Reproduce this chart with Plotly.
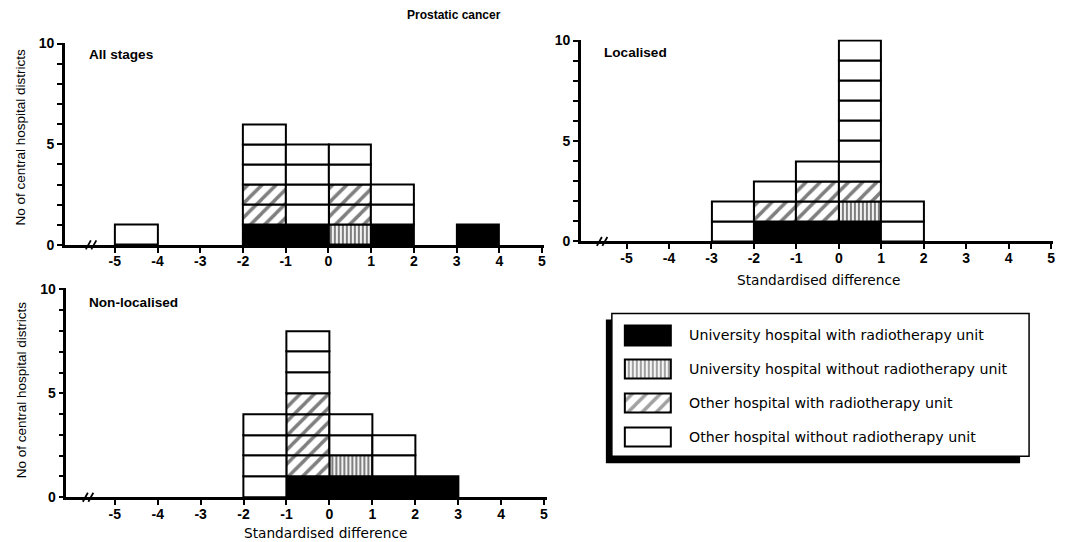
import plotly.graph_objects as go

W, H = 1072, 542

# ---------------- data ----------------
bin_left = [-5, -4, -3, -2, -1, 0, 1, 2, 3, 4]
x_tick_vals = [-5, -4, -3, -2, -1, 0, 1, 2, 3, 4, 5]
x_tick_labels = ["-5", "-4", "-3", "-2", "-1", "0", "1", "2", "3", "4", "5"]
y_tick_vals = [0, 1, 2, 3, 4, 5, 6, 7, 8, 9, 10]
y_tick_labels = ["0", "", "", "", "", "5", "", "", "", "", "10"]

categories = [
    "University hospital with radiotherapy unit",
    "University hospital without radiotherapy unit",
    "Other hospital with radiotherapy unit",
    "Other hospital without radiotherapy unit",
]

# counts of districts per bin (bins -5..-4, -4..-3, ..., 4..5)
all_uni_rt    = [0, 0, 0, 1, 1, 0, 1, 0, 1, 0]
all_uni_nort  = [0, 0, 0, 0, 0, 1, 0, 0, 0, 0]
all_oth_rt    = [0, 0, 0, 2, 0, 2, 0, 0, 0, 0]
all_oth_nort  = [1, 0, 0, 3, 4, 2, 2, 0, 0, 0]

loc_uni_rt    = [0, 0, 0, 1, 1, 1, 0, 0, 0, 0]
loc_uni_nort  = [0, 0, 0, 0, 0, 1, 0, 0, 0, 0]
loc_oth_rt    = [0, 0, 0, 1, 2, 1, 0, 0, 0, 0]
loc_oth_nort  = [0, 0, 2, 1, 1, 7, 2, 0, 0, 0]

non_uni_rt    = [0, 0, 0, 0, 1, 1, 1, 1, 0, 0]
non_uni_nort  = [0, 0, 0, 0, 0, 1, 0, 0, 0, 0]
non_oth_rt    = [0, 0, 0, 0, 4, 0, 0, 0, 0, 0]
non_oth_nort  = [0, 0, 0, 4, 3, 2, 2, 0, 0, 0]

panel_titles = ["All stages", "Localised", "Non-localised"]
main_title = "Prostatic cancer"
y_title = "No of central hospital districts"
x_title = "Standardised difference"

# ---------------- styles / layout geometry (pixels) ----------------
FONT = "Liberation Sans, Arial, Helvetica, sans-serif"
WIDE = "DejaVu Sans, Verdana, sans-serif"

styles = [
    dict(color="black"),
    dict(color="white", pattern=dict(shape="|", fgcolor="black", bgcolor="white",
                                      size=4, solidity=0.55)),
    dict(color="white", pattern=dict(shape="/", fgcolor="black", bgcolor="white",
                                      size=10, solidity=0.35)),
    dict(color="white"),
]

geoms = [
    dict(ax=65, m5=115, p5=543, right=545, y0=244.5, y10=43),
    dict(ax=582, m5=627.7, p5=1053, right=1055, y0=241, y10=40),
    dict(ax=66.5, m5=115, p5=545, right=548, y0=497, y10=289),
]

panels = [
    [all_uni_rt, all_uni_nort, all_oth_rt, all_oth_nort],
    [loc_uni_rt, loc_uni_nort, loc_oth_rt, loc_oth_nort],
    [non_uni_rt, non_uni_nort, non_oth_rt, non_oth_nort],
]

# vertical calibration of the rendered page
Y_OFF, Y_SCALE = 6.4, 0.973


def px2x(px):
    return px / W


def px2y(py):
    return 1 - ((py - Y_OFF) / Y_SCALE) / H


fig = go.Figure()
layout = dict()
shapes = []
annotations = []

YTOP = 10.05

for p, (series, g) in enumerate(zip(panels, geoms)):
    n = p + 1
    xa = "x" if n == 1 else f"x{n}"
    ya = "y" if n == 1 else f"y{n}"
    unit_x = (g["p5"] - g["m5"]) / 10.0
    xr0 = -5 - (g["m5"] - g["ax"]) / unit_x
    xr1 = 5 + (g["right"] - g["p5"]) / unit_x
    unit_y = (g["y0"] - g["y10"]) / 10.0
    ytop_px = g["y0"] - YTOP * unit_y

    cum = [0] * len(bin_left)
    for c, counts in enumerate(series):
        xs, bases = [], []
        for i, cnt in enumerate(counts):
            for k in range(cnt):
                xs.append(bin_left[i] + 0.5)
                bases.append(cum[i] + k)
            cum[i] += cnt
        if xs:
            fig.add_trace(go.Bar(
                x=xs, y=[1] * len(xs), base=bases, width=1,
                marker=dict(line=dict(color="black", width=2), **styles[c]),
                xaxis=xa, yaxis=ya, showlegend=False, hoverinfo="skip",
            ))

    axis_common = dict(showgrid=False, zeroline=False, showline=True,
                       linecolor="black", linewidth=2.5, ticks="outside",
                       ticklen=5, tickwidth=2, tickcolor="black",
                       tickfont=dict(family=FONT, size=14, color="black"))
    layout["xaxis" if n == 1 else f"xaxis{n}"] = dict(
        domain=[px2x(g["ax"]), px2x(g["right"])], range=[xr0, xr1],
        anchor=ya, tickmode="array", tickvals=x_tick_vals,
        ticktext=[f"<b>{t}</b>" for t in x_tick_labels],
        ticklabelstandoff=-3,
        **axis_common)
    layout["yaxis" if n == 1 else f"yaxis{n}"] = dict(
        domain=[px2y(g["y0"]), px2y(ytop_px)], range=[0, YTOP],
        anchor=xa, tickmode="array", tickvals=y_tick_vals,
        ticktext=[f"<b>{t}</b>" if t else "" for t in y_tick_labels],
        **axis_common)

# axis breaks (//)
breaks = [(86, 244.5), (598, 241), (83, 497)]
for bx, by in breaks:
    for dx in (0, 5.5):
        shapes.append(dict(type="line", xref="paper", yref="paper",
                           x0=px2x(bx + dx), y0=px2y(by + 4.5),
                           x1=px2x(bx + dx + 5), y1=px2y(by - 4.5),
                           line=dict(color="black", width=1.8), layer="above"))

# legend swatches in a hidden subplot
leg_centers_top = 335
leg_step = 34
fig.add_trace(go.Bar(
    x=[1, 1, 1, 1], y=[0, 1, 2, 3], base=[0, 0, 0, 0], orientation="h", width=0.56,
    marker=dict(color=[s["color"] for s in styles], line=dict(color="black", width=2),
                pattern=dict(shape=["", "|", "/", ""], fgcolor="black", bgcolor="white",
                             size=[4, 4, 10, 4], solidity=[0.5, 0.55, 0.35, 0.5])),
    xaxis="x4", yaxis="y4", showlegend=False, hoverinfo="skip",
))
sw_l, sw_r = 626, 672
layout["xaxis4"] = dict(domain=[px2x(sw_l - 2), px2x(sw_r + 2)],
                        range=[-2 / (sw_r - sw_l), 1 + 2 / (sw_r - sw_l)],
                        visible=False, anchor="y4")
top_px = leg_centers_top - leg_step / 2
bot_px = leg_centers_top + 3.5 * leg_step
layout["yaxis4"] = dict(domain=[px2y(bot_px), px2y(top_px)], range=[3.5, -0.5],
                        visible=False, anchor="x4")

# legend box with shadow
shapes.append(dict(type="rect", xref="paper", yref="paper",
                   x0=px2x(607), x1=px2x(1022), y0=px2y(463), y1=px2y(319),
                   fillcolor="black", line=dict(width=0), layer="below"))
shapes.append(dict(type="rect", xref="paper", yref="paper",
                   x0=px2x(613), x1=px2x(1031), y0=px2y(456), y1=px2y(313),
                   fillcolor="white", line=dict(color="black", width=1.5), layer="below"))

for k, cat in enumerate(categories):
    annotations.append(dict(text=cat, xref="paper", yref="paper",
                            x=px2x(688), y=px2y(leg_centers_top + k * leg_step),
                            xanchor="left", yanchor="middle", showarrow=False,
                            font=dict(family=WIDE, size=14.2, color="black")))

# titles
annotations.append(dict(text=f"<b>{main_title}</b>", xref="paper", yref="paper",
                        x=px2x(455), y=px2y(14), xanchor="center", yanchor="middle",
                        showarrow=False,
                        font=dict(family=FONT, size=12, color="black")))
panel_title_pos = [(87, 54), (603, 52), (87, 302)]
for t, (tx, ty) in zip(panel_titles, panel_title_pos):
    annotations.append(dict(text=f"<b>{t}</b>", xref="paper", yref="paper",
                            x=px2x(tx), y=px2y(ty), xanchor="left", yanchor="middle",
                            showarrow=False,
                            font=dict(family=FONT, size=13.6, color="black")))
for cy in (136, 389):
    annotations.append(dict(text=y_title, xref="paper", yref="paper",
                            x=px2x(21), y=px2y(cy), xanchor="center", yanchor="middle",
                            textangle=-90, showarrow=False,
                            font=dict(family=FONT, size=13.5, color="black")))
for cx, cy in ((820, 280), (326, 533)):
    annotations.append(dict(text=x_title, xref="paper", yref="paper",
                            x=px2x(cx), y=px2y(cy), xanchor="center", yanchor="middle",
                            showarrow=False,
                            font=dict(family=WIDE, size=13.7, color="black")))

fig.update_layout(
    width=W, height=H, margin=dict(l=0, r=0, t=0, b=0),
    paper_bgcolor="white", plot_bgcolor="rgba(0,0,0,0)",
    barmode="overlay", bargap=0, showlegend=False,
    shapes=shapes, annotations=annotations,
    font=dict(family=FONT, color="black"),
    **layout,
)

fig.write_html(
    "out.html",
    config={"displayModeBar": False},
    post_script="document.body.style.margin='0';document.body.style.overflow='hidden';",
)
